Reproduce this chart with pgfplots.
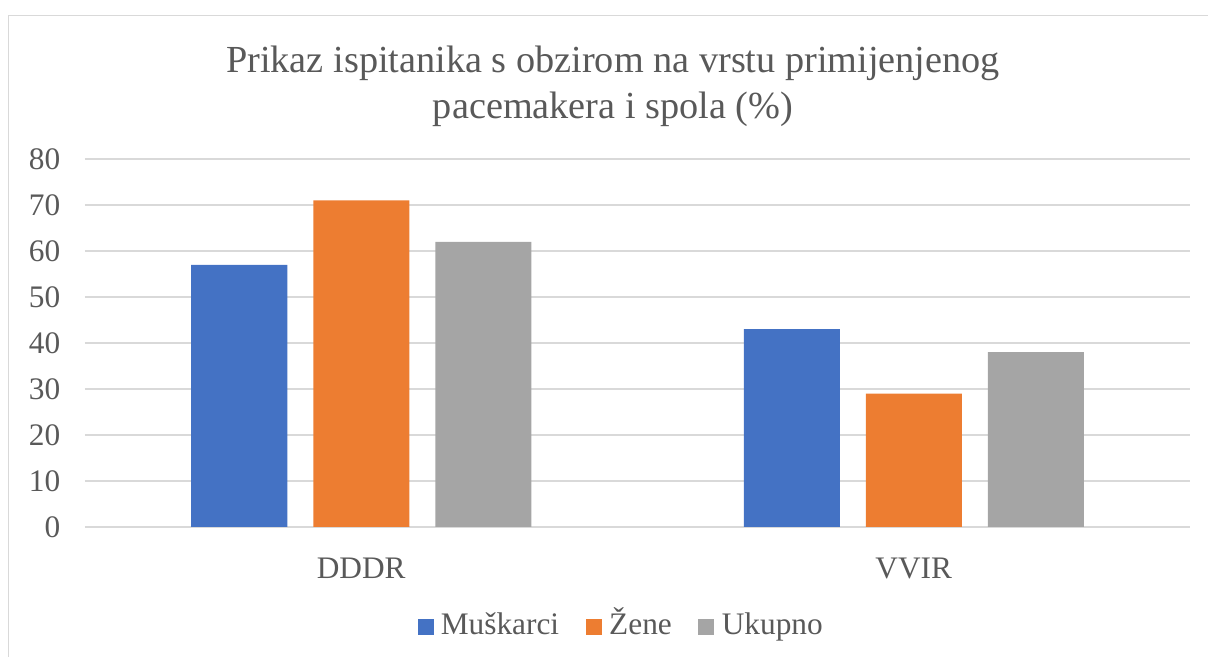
\documentclass[border=0pt]{standalone}
\usepackage{pgfplots}
\pgfplotsset{compat=1.18}
\usepackage{fontspec}
\setmainfont{Liberation Serif}
\definecolor{cblue}{HTML}{4472C4}
\definecolor{corange}{HTML}{ED7D31}
\definecolor{cgray}{HTML}{A5A5A5}
\definecolor{gridgray}{HTML}{D9D9D9}
\definecolor{textgray}{HTML}{595959}
\begin{document}
\begin{tikzpicture}[x=0.75pt,y=0.75pt]
\path[use as bounding box] (0,0) rectangle (1208,657);
\draw[gridgray, line width=1.1pt] (8.5,-20) -- (8.5,641.5) -- (1250,641.5);
\node[text=textgray, align=center, font=\fontsize{28.7}{34.5}\selectfont] at (613,571) {Prikaz ispitanika s obzirom na vrstu primijenjenog\\pacemakera i spola (\%)};
\begin{axis}[
  at={(63.75pt,97.5pt)}, anchor=south west,
  scale only axis, width=828.75pt, height=276pt,
  ymin=0, ymax=80, ytick={0,10,...,80},
  xmin=-0.5, xmax=1.5, xtick={0,1}, xticklabels={DDDR,VVIR},
  ybar=19.5pt, bar width=72pt,
  axis line style={draw=none}, tick style={draw=none},
  major tick length=0pt,
  ymajorgrids, grid style={draw=gridgray, line width=1.1pt},
  /pgf/number format/assume math mode=true,
  tick label style={font=\fontsize{23.5}{24}\selectfont, text=textgray},
  yticklabel style={anchor=east, xshift=-15pt},
  xticklabel style={anchor=north, yshift=-20pt},
  legend columns=3,
  legend style={at={(0.4855,-0.2717)}, anchor=center, draw=none, fill=none,
    font=\fontsize{23.5}{24}\selectfont, text=textgray,
    nodes={text height=16pt, text depth=5pt},
    /tikz/every odd column/.append style={column sep=3.5pt},
    /tikz/every even column/.append style={column sep=18pt}},
  legend image code/.code={\fill[#1] (0pt,-6pt) rectangle (12pt,6pt);},
]
\addplot[fill=cblue, draw=none] coordinates {(0,57) (1,43)};
\addplot[fill=corange, draw=none] coordinates {(0,71) (1,29)};
\addplot[fill=cgray, draw=none] coordinates {(0,62) (1,38)};
\legend{Muškarci,Žene,Ukupno}
\end{axis}
\end{tikzpicture}
\end{document}
